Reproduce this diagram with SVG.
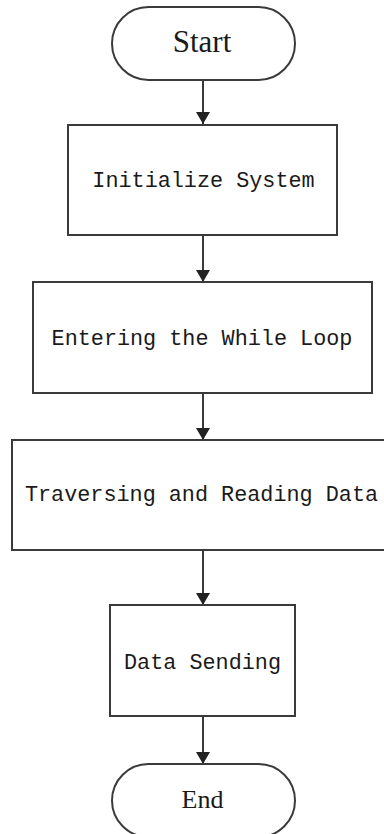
<svg xmlns="http://www.w3.org/2000/svg" width="384" height="834" viewBox="0 0 384 834">
<style>
.shape{fill:#fff;stroke:#3a3a3a;stroke-width:2}
.lbl{font-family:"Liberation Mono",monospace;font-size:21.8px;fill:#1a1a1a}
.term{font-family:"Liberation Serif",serif;fill:#1a1a1a}
.conn{stroke:#3a3a3a;stroke-width:2;fill:none}
</style>
<defs>
<marker id="arr" viewBox="0 0 12 14" refX="12" refY="7" markerWidth="12" markerHeight="14" markerUnits="userSpaceOnUse" orient="auto">
<path d="M0,0 L12,7 L0,14 Z" fill="#222"/>
</marker>
</defs>
<rect width="384" height="834" fill="#fff"/>
<g id="connectors">
<line class="conn" x1="203" y1="80" x2="203" y2="124" marker-end="url(#arr)"/>
<line class="conn" x1="203" y1="235" x2="203" y2="282" marker-end="url(#arr)"/>
<line class="conn" x1="203" y1="393" x2="203" y2="440" marker-end="url(#arr)"/>
<line class="conn" x1="203" y1="550" x2="203" y2="605" marker-end="url(#arr)"/>
<line class="conn" x1="203" y1="716" x2="203" y2="764" marker-end="url(#arr)"/>
</g>
<g id="start">
<rect class="shape" x="112" y="7" width="183" height="73" rx="36.5"/>
<text class="term" x="202" y="52" text-anchor="middle" font-size="31">Start</text>
</g>
<g id="init">
<rect class="shape" x="68" y="125" width="269" height="110"/>
<text class="lbl" x="203.5" y="187" text-anchor="middle">Initialize System</text>
</g>
<g id="while">
<rect class="shape" x="33" y="282" width="339" height="111"/>
<text class="lbl" x="202" y="345" text-anchor="middle">Entering the While Loop</text>
</g>
<g id="traverse">
<rect class="shape" x="12" y="440" width="380" height="110"/>
<text class="lbl" x="201.5" y="501" text-anchor="middle">Traversing and Reading Data</text>
</g>
<g id="send">
<rect class="shape" x="110" y="605" width="185" height="111"/>
<text class="lbl" x="202.5" y="669" text-anchor="middle">Data Sending</text>
</g>
<g id="end">
<rect class="shape" x="112" y="764" width="183" height="73" rx="36.5"/>
<text class="term" x="202.5" y="808" text-anchor="middle" font-size="26">End</text>
</g>
</svg>
